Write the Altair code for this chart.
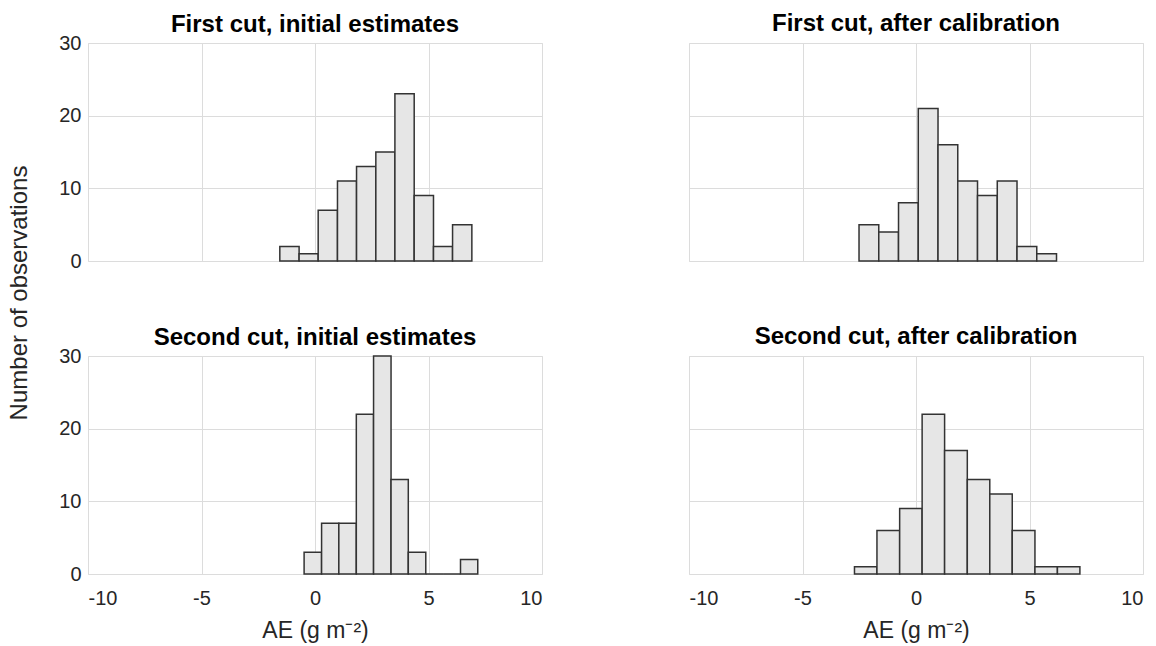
import altair as alt
import pandas as pd

# Bin edges (g m^-2) and counts
tl_edges = [-1.55, -0.70, 0.14, 0.99, 1.83, 2.68, 3.52, 4.37, 5.22, 6.06, 6.91]
tl_counts = [2, 1, 7, 11, 13, 15, 23, 9, 2, 5]
tr_edges = [-2.51, -1.64, -0.77, 0.10, 0.97, 1.84, 2.71, 3.58, 4.45, 5.32, 6.19]
tr_counts = [5, 4, 8, 21, 16, 11, 9, 11, 2, 1]
bl_edges = [-0.48, 0.29, 1.05, 1.82, 2.58, 3.35, 4.11, 4.88, 5.64, 6.41, 7.17]
bl_counts = [3, 7, 7, 22, 30, 13, 3, 0, 0, 2]
br_edges = [-2.71, -1.72, -0.72, 0.27, 1.26, 2.26, 3.25, 4.24, 5.24, 6.23, 7.22]
br_counts = [1, 6, 9, 22, 17, 13, 11, 6, 1, 1]

titles = ["First cut, initial estimates", "First cut, after calibration",
          "Second cut, initial estimates", "Second cut, after calibration"]
x_ticks = [-10, -5, 0, 5, 10]
y_ticks = [0, 10, 20, 30]
x_title = "AE (g m\u207b\u00b2)"
y_title = "Number of observations"

FONT = "Liberation Sans"
W, H = 454, 218


def panel(edges, counts, title, show_x, show_y):
    df = pd.DataFrame({"x0": edges[:-1], "x1": edges[1:], "n": counts})
    xaxis = alt.Axis(values=x_ticks, grid=True, gridColor="#dcdcdc", domain=False,
                     ticks=False, labels=show_x, labelFontSize=20, labelFont=FONT,
                     labelColor="#262626", labelPadding=14,
                     labelExpr="'' + datum.value",
                     title=x_title if show_x else None, titleFontSize=23,
                     titleFont=FONT, titleFontWeight="normal", titleColor="#262626",
                     titlePadding=11)
    yaxis = alt.Axis(values=y_ticks, grid=True, gridColor="#dcdcdc", domain=False,
                     ticks=False, labels=show_y, labelFontSize=20, labelFont=FONT,
                     labelColor="#262626", labelPadding=7, title=None)
    # left panels: the "30" label sticks out above the plot, so pull the title down
    toff = -4 if show_y else 7
    return alt.Chart(df).mark_bar(fill="#e6e6e6", stroke="#333333", strokeWidth=1.5).encode(
        x=alt.X("x0:Q", scale=alt.Scale(domain=[-10, 10], nice=False), axis=xaxis),
        x2="x1:Q",
        y=alt.Y("n:Q", scale=alt.Scale(domain=[0, 30], nice=False), axis=yaxis),
        y2=alt.datum(0),
    ).properties(
        width=W, height=H,
        title=alt.TitleParams(title, fontSize=24, fontWeight="bold", font=FONT,
                              color="#000000", offset=toff, frame="group"),
    )


tl = panel(tl_edges, tl_counts, titles[0], False, True)
tr = panel(tr_edges, tr_counts, titles[1], False, False)
bl = panel(bl_edges, bl_counts, titles[2], True, True)
br = panel(br_edges, br_counts, titles[3], True, False)

chart = alt.vconcat(
    alt.hconcat(tl, tr, spacing=145),
    alt.hconcat(bl, br, spacing=145),
    spacing=52,
).properties(
    title=alt.TitleParams(y_title, orient="left", anchor="middle", fontSize=24,
                          fontWeight="normal", font=FONT, color="#262626", offset=26,
                          dx=34),
    padding={"left": 8, "top": 11, "right": 5, "bottom": 0},
).configure_view(stroke="#262626", strokeWidth=1.2).configure(background="white")

chart.save("out.html", embed_options={"renderer": "svg", "actions": False})
